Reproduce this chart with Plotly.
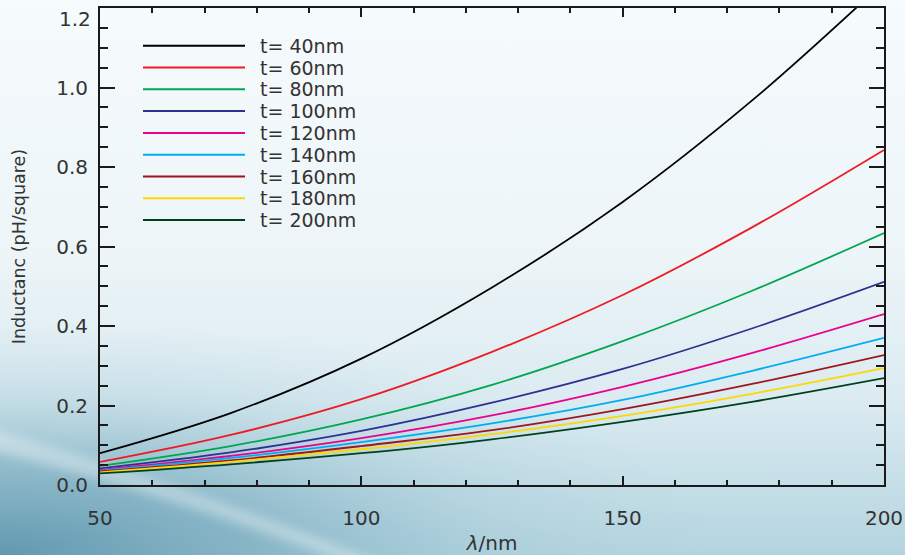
import base64
import plotly.graph_objects as go

# Wavelength (nm) sample points and inductance (pH/square) per film thickness
lam = [50, 75, 100, 125, 150, 175, 200]
t40 = [0.080, 0.181, 0.318, 0.497, 0.712, 0.970, 1.265]
t60 = [0.058, 0.126, 0.216, 0.335, 0.478, 0.650, 0.843]
t80 = [0.048, 0.098, 0.165, 0.252, 0.362, 0.490, 0.634]
t100 = [0.042, 0.082, 0.136, 0.207, 0.292, 0.395, 0.511]
t120 = [0.038, 0.073, 0.118, 0.175, 0.247, 0.333, 0.430]
t140 = [0.036, 0.068, 0.108, 0.155, 0.214, 0.288, 0.370]
t160 = [0.034, 0.062, 0.098, 0.138, 0.191, 0.255, 0.327]
t180 = [0.032, 0.058, 0.090, 0.128, 0.174, 0.230, 0.294]
t200 = [0.029, 0.052, 0.080, 0.115, 0.159, 0.210, 0.269]

names = ["t= 40nm", "t= 60nm", "t= 80nm", "t= 100nm", "t= 120nm",
         "t= 140nm", "t= 160nm", "t= 180nm", "t= 200nm"]
series = [t40, t60, t80, t100, t120, t140, t160, t180, t200]
colors = ["#000000", "#ed1c24", "#00a651", "#2e3192", "#ec008c",
          "#00aeef", "#a0161e", "#fdd800", "#01421e"]

y_ticks = [0.0, 0.2, 0.4, 0.6, 0.8, 1.0, 1.2]
y_labels = ["0.0", "0.2", "0.4", "0.6", "0.8", "1.0", "1.2"]
x_ticks = [50, 100, 150, 200]

W, H = 905, 555
ML, MR, MT, MB = 100, 21, 8, 70
PW, PH = W - ML - MR, H - MT - MB

FONT = "DejaVu Sans, Verdana, sans-serif"
TXT = "#333333"
AX = "#1a1a1a"

fig = go.Figure()
for name, ys, c in zip(names, series, colors):
    fig.add_trace(go.Scatter(x=lam, y=ys, mode="lines", name=name,
                             line=dict(color=c, width=1.8, shape="spline"),
                             showlegend=False))

# soft blue slide-style backdrop
svg = f"""<svg xmlns='http://www.w3.org/2000/svg' width='{W}' height='{H}' viewBox='0 0 {W} {H}' preserveAspectRatio='none'>
<defs>
<linearGradient id='g' x1='0' y1='0' x2='0' y2='1'>
<stop offset='0' stop-color='#f6fbfd'/>
<stop offset='0.45' stop-color='#edf5f8'/>
<stop offset='0.72' stop-color='#dbebf1'/>
<stop offset='1' stop-color='#b3d4df'/>
</linearGradient>
<radialGradient id='r' cx='0' cy='1' r='0.8'>
<stop offset='0' stop-color='#5d95ac' stop-opacity='0.95'/>
<stop offset='0.35' stop-color='#74a8bc' stop-opacity='0.7'/>
<stop offset='0.7' stop-color='#9cc5d3' stop-opacity='0.3'/>
<stop offset='1' stop-color='#b4d4df' stop-opacity='0'/>
</radialGradient>
<filter id='b' x='-0.2' y='-0.2' width='1.4' height='1.4'>
<feGaussianBlur stdDeviation='5'/>
</filter>
</defs>
<rect width='{W}' height='{H}' fill='url(#g)'/>
<rect x='0' y='260' width='{W}' height='{H - 260}' fill='url(#r)'/>
<path d='M-20,425 C120,465 260,512 400,570 L365,570 C240,522 110,480 -20,447 Z' fill='#ffffff' fill-opacity='0.32' filter='url(#b)'/>
</svg>"""
src = "data:image/svg+xml;base64," + base64.b64encode(svg.encode()).decode()
fig.add_layout_image(dict(source=src, xref="paper", yref="paper",
                          x=-ML / PW, y=1 + MT / PH, sizex=W / PW, sizey=H / PH,
                          xanchor="left", yanchor="top", sizing="stretch",
                          layer="below"))

# hand-built legend: long sample lines with labels
row0, rowstep = 45.7, 21.8
for i, (name, c) in enumerate(zip(names, colors)):
    ypix = row0 + i * rowstep
    yp = (H - MB - ypix) / PH
    fig.add_shape(type="line", xref="paper", yref="paper",
                  x0=(143 - ML) / PW, x1=(245 - ML) / PW, y0=yp, y1=yp,
                  line=dict(color=c, width=2))
    fig.add_annotation(xref="paper", yref="paper", x=(259 - ML) / PW, y=yp,
                       text=name, showarrow=False, xanchor="left",
                       yanchor="middle", borderpad=0,
                       font=dict(family=FONT, size=19, color=TXT))

# top y label sits just under the frame corner
fig.add_annotation(xref="paper", yref="y", x=0, y=y_ticks[-1], yshift=-11,
                   xshift=-7, text=y_labels[-1], showarrow=False,
                   xanchor="right", yanchor="middle",
                   font=dict(family=FONT, size=20, color=TXT))

axis_common = dict(showline=True, linecolor=AX, linewidth=2,
                   mirror="allticks", ticks="inside", tickcolor=AX,
                   tickwidth=1.5, showgrid=False, zeroline=False,
                   tickfont=dict(family=FONT, size=20, color=TXT))

fig.update_xaxes(range=[50, 200], tickvals=x_ticks, ticklen=9,
                 ticklabelstandoff=14,
                 minor=dict(ticks="inside", ticklen=5, dtick=10, tick0=50,
                            tickcolor=AX, tickwidth=1.5),
                 title=dict(text="<i>λ</i>/nm", standoff=8,
                            font=dict(family=FONT, size=20, color=TXT)),
                 **axis_common)
fig.update_yaxes(range=[0, 1.2], tickvals=y_ticks,
                 ticktext=y_labels[:-1] + [""], ticklen=15,
                 ticklabelstandoff=6,
                 minor=dict(ticks="inside", ticklen=8, dtick=0.05, tick0=0,
                            tickcolor=AX, tickwidth=1.5),
                 title=dict(text="Inductanc (pH/square)", standoff=26,
                            font=dict(family=FONT, size=17.5, color=TXT)),
                 **axis_common)

fig.update_layout(width=W, height=H,
                  margin=dict(l=ML, r=MR, t=MT, b=MB, autoexpand=False),
                  paper_bgcolor="#eef5f8", plot_bgcolor="rgba(0,0,0,0)",
                  font=dict(family=FONT, color=TXT))

fig.write_html("out.html")
